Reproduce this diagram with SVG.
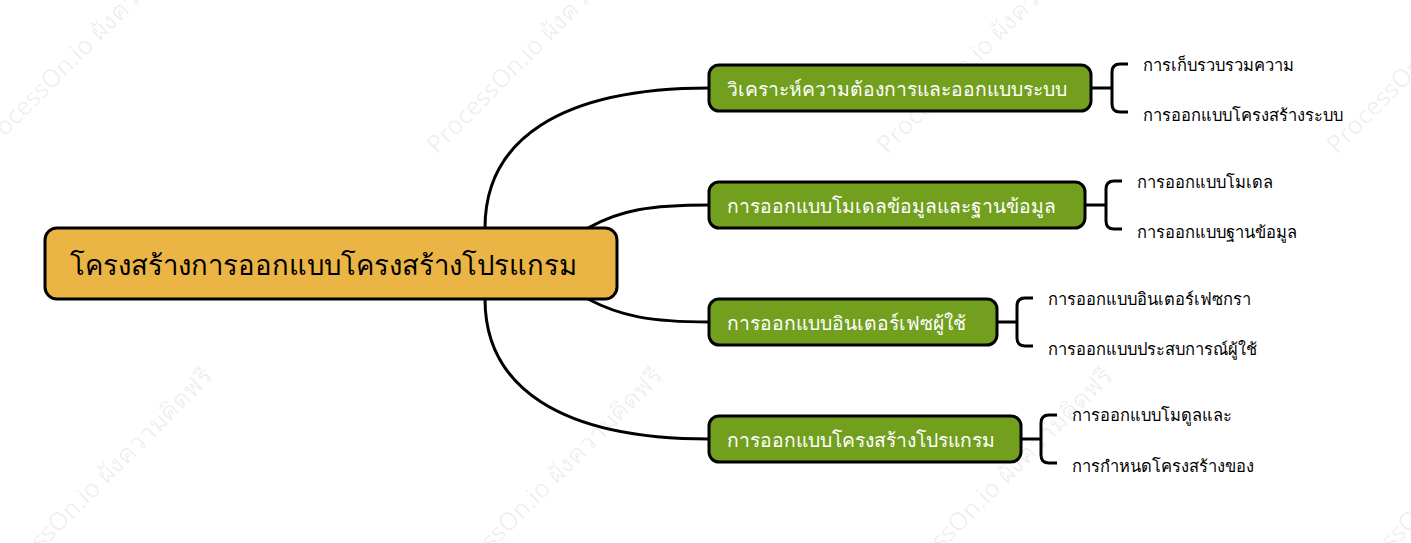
<svg xmlns="http://www.w3.org/2000/svg" width="1411" height="543" viewBox="0 0 1411 543">
<style>
.wm{font-family:"Open Sans","Noto Sans",sans-serif;font-size:25px;fill:#000;fill-opacity:0.07}
.root rect{fill:#EBB546;stroke:#000;stroke-width:3}
.root text{font-family:"Noto Sans","DejaVu Sans",sans-serif;font-size:27.5px;fill:#000;dominant-baseline:central}
.br rect{fill:#729F1E;stroke:#000;stroke-width:3}
.br text{font-family:"Noto Sans","DejaVu Sans",sans-serif;font-size:19.3px;fill:#fff;dominant-baseline:central}
.leaf text{font-family:"Noto Sans","DejaVu Sans",sans-serif;font-size:16.5px;fill:#000;dominant-baseline:central}
.con path{fill:none;stroke:#000;stroke-width:3}
</style>
<rect width="1411" height="543" fill="#fff"/>
<g id="watermarks">
<text class="wm" transform="translate(-13,155) rotate(-45)">ProcessOn.io ผังความคิดฟรี</text>
<text class="wm" transform="translate(437,155) rotate(-45)">ProcessOn.io ผังความคิดฟรี</text>
<text class="wm" transform="translate(887,155) rotate(-45)">ProcessOn.io ผังความคิดฟรี</text>
<text class="wm" transform="translate(1337,155) rotate(-45)">ProcessOn.io ผังความคิดฟรี</text>
<text class="wm" transform="translate(-6,598) rotate(-45)">ProcessOn.io ผังความคิดฟรี</text>
<text class="wm" transform="translate(444,598) rotate(-45)">ProcessOn.io ผังความคิดฟรี</text>
<text class="wm" transform="translate(894,598) rotate(-45)">ProcessOn.io ผังความคิดฟรี</text>
<text class="wm" transform="translate(1344,598) rotate(-45)">ProcessOn.io ผังความคิดฟรี</text>
</g>
<g id="connectors" class="con">
<path d="M485,228 C485,140 560,88 709,88"/>
<path d="M588,228 C620,210 650,205 709,205"/>
<path d="M588,299 C620,316 650,322 709,322"/>
<path d="M485,299 C485,387 560,439 709,439"/>
<path d="M1091,88 H1112 M1128,64 H1120 Q1112,64 1112,72 V104 Q1112,112 1120,112 H1128"/>
<path d="M1085,205 H1106 M1122,181 H1114 Q1106,181 1106,189 V221 Q1106,229 1114,229 H1122"/>
<path d="M997,322 H1017 M1033,298 H1025 Q1017,298 1017,306 V338 Q1017,346 1025,346 H1033"/>
<path d="M1021,439 H1041 M1057,415 H1049 Q1041,415 1041,423 V455 Q1041,463 1049,463 H1057"/>
</g>
<g id="root" class="root">
<rect x="45" y="228" width="572" height="71" rx="12"/>
<text x="70" y="264">โครงสร้างการออกแบบโครงสร้างโปรแกรม</text>
</g>
<g id="b1" class="br">
<rect x="709" y="65" width="382" height="46" rx="10"/>
<text x="727" y="88">วิเคราะห์ความต้องการและออกแบบระบบ</text>
</g>
<g id="b2" class="br">
<rect x="709" y="182" width="376" height="46" rx="10"/>
<text x="727" y="205">การออกแบบโมเดลข้อมูลและฐานข้อมูล</text>
</g>
<g id="b3" class="br">
<rect x="709" y="299" width="288" height="46" rx="10"/>
<text x="727" y="322">การออกแบบอินเตอร์เฟซผู้ใช้</text>
</g>
<g id="b4" class="br">
<rect x="709" y="416" width="312" height="46" rx="10"/>
<text x="727" y="439">การออกแบบโครงสร้างโปรแกรม</text>
</g>
<g id="l1a" class="leaf"><text x="1143" y="64">การเก็บรวบรวมความ</text></g>
<g id="l1b" class="leaf"><text x="1143" y="114">การออกแบบโครงสร้างระบบ</text></g>
<g id="l2a" class="leaf"><text x="1137" y="181">การออกแบบโมเดล</text></g>
<g id="l2b" class="leaf"><text x="1137" y="231">การออกแบบฐานข้อมูล</text></g>
<g id="l3a" class="leaf"><text x="1048" y="298">การออกแบบอินเตอร์เฟซกรา</text></g>
<g id="l3b" class="leaf"><text x="1048" y="348">การออกแบบประสบการณ์ผู้ใช้</text></g>
<g id="l4a" class="leaf"><text x="1072" y="414">การออกแบบโมดูลและ</text></g>
<g id="l4b" class="leaf"><text x="1072" y="465">การกำหนดโครงสร้างของ</text></g>
</svg>
